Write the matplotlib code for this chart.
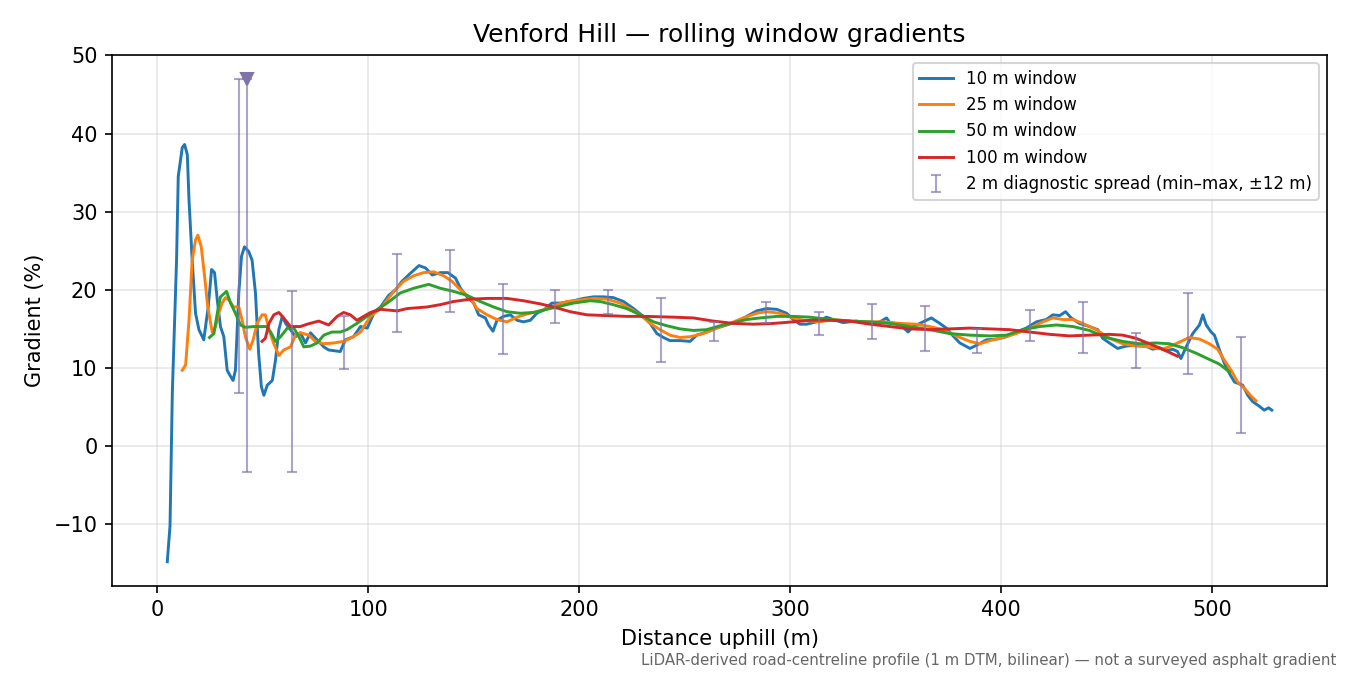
import matplotlib
matplotlib.use("Agg")
import matplotlib.pyplot as plt
import numpy as np

# ---- data ----
w10_x = [4.7, 6.0, 7.1, 9.1, 9.9, 11.8, 12.9, 14.2, 15.0, 16.5, 18.1, 19.7, 22.0, 24.1,
         25.7, 27.1, 28.4, 29.9, 31.5, 33.1, 34.3, 35.9, 37.0, 38.6, 39.9, 41.3, 43.3,
         44.9, 46.5, 48.0, 49.3, 50.5, 52.1, 54.5, 56.0, 57.6, 59.2, 60.8, 63.1, 65.5,
         67.8, 70.2, 72.6, 75.7, 78.9, 81.2, 86.7, 89.1, 93.0, 96.3, 99.5, 102.6, 105.8,
         109.7, 112.9, 116.0, 119.9, 124.0, 127.1, 130.3, 134.2, 137.7, 141.3, 143.7,
         146.8, 150.0, 152.3, 155.5, 157.0, 159.1, 161.0, 164.1, 167.3, 170.5, 173.6,
         176.8, 179.9, 183.1, 187.0, 190.9, 195.7, 202.0, 206.8, 211.5, 216.2, 221.0,
         225.7, 230.4, 233.6, 236.8, 239.9, 243.0, 247.8, 252.5, 255.7, 260.4, 265.1,
         269.8, 274.6, 279.4, 284.1, 288.8, 293.6, 298.3, 301.4, 304.6, 307.8, 312.5,
         317.2, 320.3, 325.1, 331.4, 337.7, 342.5, 345.7, 347.2, 352.0, 355.9, 358.3,
         363.0, 366.9, 370.9, 374.0, 377.2, 380.4, 385.2, 388.3, 393.0, 397.8, 402.5,
         407.2, 411.9, 416.7, 421.4, 424.5, 427.7, 430.5, 433.2, 437.1, 441.8, 445.8,
         448.1, 451.3, 455.2, 459.2, 463.9, 468.6, 471.8, 475.0, 478.1, 481.3, 483.6,
         485.2, 487.7, 490.8, 494.0, 495.6, 497.2, 499.5, 501.1, 503.5, 505.8, 508.2,
         510.6, 514.5, 516.9, 519.2, 522.4, 524.7, 526.8, 528.3]
w10_y = [-14.8, -10.2, 6.9, 23.8, 34.5, 38.2, 38.6, 37.3, 31.5, 23.8, 17.0, 14.9, 13.6,
         17.8, 22.6, 22.2, 18.7, 15.3, 14.0, 9.7, 9.1, 8.4, 9.7, 19.6, 24.3, 25.5, 24.9,
         23.8, 19.6, 11.9, 7.6, 6.5, 7.8, 8.4, 11.0, 14.9, 16.6, 15.7, 14.9, 14.0, 14.5,
         13.2, 14.5, 13.6, 12.7, 12.3, 12.1, 13.6, 14.0, 15.3, 15.1, 17.0, 17.8, 19.3,
         20.0, 21.1, 22.1, 23.1, 22.8, 21.9, 22.2, 22.2, 21.5, 20.2, 19.1, 18.3, 16.8,
         16.4, 15.5, 14.7, 16.1, 16.6, 16.8, 16.1, 15.9, 16.1, 17.0, 17.4, 18.3, 18.3,
         18.5, 18.9, 19.1, 19.1, 19.0, 18.5, 17.6, 16.6, 15.7, 14.4, 13.9, 13.5, 13.5,
         13.4, 14.2, 14.6, 15.1, 15.5, 15.9, 16.6, 17.3, 17.6, 17.5, 17.0, 16.2, 15.6,
         15.6, 15.9, 16.5, 16.2, 15.8, 16.0, 15.7, 15.9, 16.4, 15.8, 15.6, 14.6, 15.3,
         15.9, 16.4, 15.7, 15.1, 14.1, 13.2, 12.5, 12.9, 13.6, 13.7, 14.0, 14.6, 15.1,
         15.9, 16.2, 16.8, 16.7, 17.2, 16.4, 15.7, 15.3, 14.9, 13.8, 13.2, 12.5, 12.8,
         12.9, 12.8, 12.4, 12.6, 12.2, 12.4, 12.1, 11.2, 12.7, 14.4, 15.5, 16.8, 15.5,
         14.6, 14.2, 12.3, 10.6, 9.3, 8.2, 7.8, 6.5, 5.7, 5.1, 4.6, 4.9, 4.6]

w25_x = [11.8, 13.4, 15.0, 16.5, 18.1, 19.2, 20.8, 22.4, 23.9, 26.0, 27.6, 29.1, 30.7,
         32.3, 33.9, 36.2, 38.6, 40.2, 41.7, 43.8, 45.4, 47.3, 49.6, 51.2, 52.9, 55.2,
         57.6, 59.9, 63.1, 65.5, 67.8, 71.8, 74.9, 78.9, 83.6, 88.3, 93.0, 96.3, 101.0,
         105.8, 112.1, 116.8, 121.5, 126.2, 131.0, 135.7, 139.6, 143.7, 148.4, 151.5,
         156.3, 161.0, 165.7, 170.5, 175.2, 179.9, 184.6, 189.4, 194.1, 200.5, 206.8,
         213.1, 219.4, 224.1, 228.9, 233.6, 238.3, 243.0, 247.8, 252.5, 258.8, 265.1,
         271.4, 277.7, 284.1, 288.8, 295.1, 301.4, 306.2, 314.1, 320.3, 328.2, 336.1,
         344.0, 352.0, 359.8, 366.1, 372.4, 378.7, 385.2, 389.9, 394.6, 400.9, 407.2,
         413.5, 419.8, 424.5, 429.3, 434.0, 438.7, 445.0, 451.3, 457.6, 463.9, 470.2,
         476.5, 481.3, 485.2, 489.1, 494.0, 498.7, 502.6, 505.8, 509.0, 512.1, 515.3,
         518.5, 520.8]
w25_y = [9.7, 10.4, 16.1, 23.8, 26.4, 27.0, 25.5, 21.7, 17.8, 14.6, 15.3, 17.0, 18.3,
         19.0, 18.7, 17.8, 17.8, 16.1, 14.0, 12.4, 13.6, 15.7, 16.8, 16.8, 14.9, 13.1,
         11.6, 12.3, 12.7, 14.2, 14.5, 14.2, 13.4, 13.1, 13.2, 13.4, 14.0, 14.6, 16.6,
         17.6, 19.8, 21.1, 21.8, 22.2, 22.3, 21.8, 21.1, 20.0, 18.9, 17.6, 16.8, 16.2,
         15.9, 16.5, 16.9, 17.2, 17.6, 18.1, 18.5, 18.7, 18.9, 18.8, 18.3, 17.6, 16.8,
         15.7, 14.9, 14.2, 13.9, 14.0, 14.4, 15.1, 15.7, 16.4, 17.0, 17.2, 17.0, 16.4,
         16.1, 15.9, 16.2, 16.0, 15.9, 15.9, 15.7, 15.6, 15.3, 14.9, 14.1, 13.4, 13.1,
         13.5, 13.9, 14.4, 15.1, 15.9, 16.4, 16.2, 16.2, 15.7, 14.9, 13.8, 13.1, 12.8,
         12.7, 12.4, 12.9, 13.4, 13.9, 13.7, 13.1, 12.4, 11.0, 9.7, 8.2, 7.4, 6.4, 5.8]

w50_x = [24.7, 26.8, 28.4, 29.9, 32.8, 34.7, 37.0, 39.4, 41.7, 45.7, 51.8, 53.7, 56.0,
         58.4, 61.6, 64.7, 67.1, 69.4, 72.6, 75.7, 78.9, 82.8, 86.7, 89.9, 94.6, 99.4,
         102.6, 108.9, 115.2, 121.5, 128.6, 134.1, 140.4, 146.7, 153.1, 159.4, 165.7,
         172.0, 178.3, 184.6, 190.9, 197.2, 205.1, 209.9, 216.1, 222.5, 228.9, 235.2,
         241.5, 247.8, 254.1, 260.4, 266.8, 273.1, 279.4, 285.7, 293.6, 301.4, 309.3,
         318.8, 328.2, 337.7, 347.2, 356.7, 366.1, 375.6, 385.1, 394.6, 402.5, 410.4,
         418.3, 426.2, 434.0, 441.8, 449.8, 457.6, 465.5, 473.4, 479.7, 486.0, 492.3,
         498.6, 503.4, 508.2]
w50_y = [13.9, 14.4, 17.0, 19.1, 19.8, 18.3, 17.0, 15.5, 15.2, 15.3, 15.3, 14.6, 13.4,
         14.0, 15.1, 15.1, 14.0, 12.7, 12.8, 13.2, 14.2, 14.6, 14.6, 14.9, 15.7, 16.6,
         17.2, 18.3, 19.6, 20.2, 20.7, 20.2, 19.8, 19.3, 18.5, 17.8, 17.2, 17.0, 17.1,
         17.5, 17.9, 18.3, 18.6, 18.5, 18.1, 17.6, 16.8, 15.9, 15.4, 15.0, 14.8, 14.9,
         15.4, 15.8, 16.2, 16.4, 16.6, 16.6, 16.5, 16.2, 16.0, 15.9, 15.7, 15.3, 14.9,
         14.4, 14.2, 14.1, 14.2, 14.9, 15.3, 15.5, 15.3, 14.8, 13.9, 13.4, 13.1, 13.2,
         13.1, 12.6, 11.9, 11.1, 10.5, 9.5]

w100_x = [49.6, 51.2, 52.9, 55.2, 57.6, 59.9, 63.1, 67.8, 71.0, 76.5, 81.2, 85.2, 88.3,
          91.5, 94.6, 97.8, 101.0, 105.8, 113.7, 118.4, 127.8, 134.1, 140.4, 148.3,
          156.3, 165.7, 173.6, 181.5, 187.8, 195.7, 203.6, 213.0, 222.5, 232.0, 244.6,
          254.1, 263.5, 273.0, 282.5, 292.0, 301.4, 309.3, 318.8, 328.2, 337.7, 347.2,
          356.7, 366.1, 375.6, 385.1, 394.6, 404.0, 413.5, 423.0, 432.4, 441.8, 451.3,
          457.6, 463.9, 470.2, 476.5, 483.6]
w100_y = [13.4, 13.8, 15.7, 16.8, 17.1, 16.4, 15.3, 15.3, 15.6, 16.0, 15.5, 16.6, 17.1,
          16.8, 16.1, 16.6, 17.1, 17.5, 17.3, 17.6, 17.8, 18.1, 18.5, 18.8, 18.9, 18.9,
          18.6, 18.2, 17.8, 17.2, 16.8, 16.7, 16.6, 16.6, 16.5, 16.4, 16.0, 15.7, 15.6,
          15.7, 15.9, 16.1, 16.1, 16.0, 15.6, 15.3, 15.0, 14.9, 15.0, 15.1, 15.0, 14.9,
          14.6, 14.3, 14.1, 14.2, 14.3, 14.2, 13.8, 13.1, 12.4, 11.5]

# 2 m diagnostic spread (min / max) sampled along the climb
spread_x = [38.7, 42.6, 63.7, 88.7, 113.7, 138.7, 163.7, 188.7, 213.7, 238.7, 263.7,
            288.7, 313.7, 338.7, 363.7, 388.7, 413.7, 438.7, 463.7, 488.7, 513.7]
spread_min = [6.8, -3.3, -3.3, 9.9, 14.6, 17.2, 11.8, 15.8, 16.9, 10.7, 13.5, 15.7,
              14.2, 13.7, 12.2, 11.9, 13.4, 11.9, 10.0, 9.2, 1.7]
spread_max = [47.0, 47.0, 19.9, 16.6, 24.6, 25.1, 20.8, 20.0, 20.0, 19.0, 15.9, 18.4,
              17.2, 18.2, 17.9, 15.0, 17.4, 18.4, 14.5, 19.6, 13.9]
clipped_x = [42.6]
clipped_y = [47.0]

series = [
    (w10_x, w10_y, "10 m window", "#1f77b4"),
    (w25_x, w25_y, "25 m window", "#ff7f0e"),
    (w50_x, w50_y, "50 m window", "#2ca02c"),
    (w100_x, w100_y, "100 m window", "#d62728"),
]

fig, ax = plt.subplots(figsize=(9, 4.5), dpi=150)
fig.subplots_adjust(left=0.083, right=0.983, top=0.919, bottom=0.132)

for xs, ys, lab, col in series:
    ax.plot(xs, ys, color=col, lw=1.4, label=lab)

sx = np.array(spread_x)
smin = np.array(spread_min)
smax = np.array(spread_max)
mid = (smin + smax) / 2
ax.errorbar(sx, mid, yerr=[mid - smin, smax - mid], fmt="none",
            ecolor="#8073ac", alpha=0.65, elinewidth=1.0, capsize=2.5,
            label="2 m diagnostic spread (min\u2013max, \u00b112 m)")
ax.plot(clipped_x, clipped_y, linestyle="none", marker="v", markersize=5.5,
        color="#8073ac")

ax.set_title("Venford Hill \u2014 rolling window gradients", fontsize=12)
ax.set_xlabel("Distance uphill (m)")
ax.set_ylabel("Gradient (%)")
ax.grid(True, color="#d0d0d0", alpha=0.5, lw=0.8)
ax.legend(loc="upper right", fontsize=8)

fig.text(0.99, 0.022,
         "LiDAR-derived road-centreline profile (1 m DTM, bilinear) \u2014 not a surveyed asphalt gradient",
         ha="right", va="center", fontsize=7.2, color="#666666")

fig.savefig("out.png", dpi=150)
